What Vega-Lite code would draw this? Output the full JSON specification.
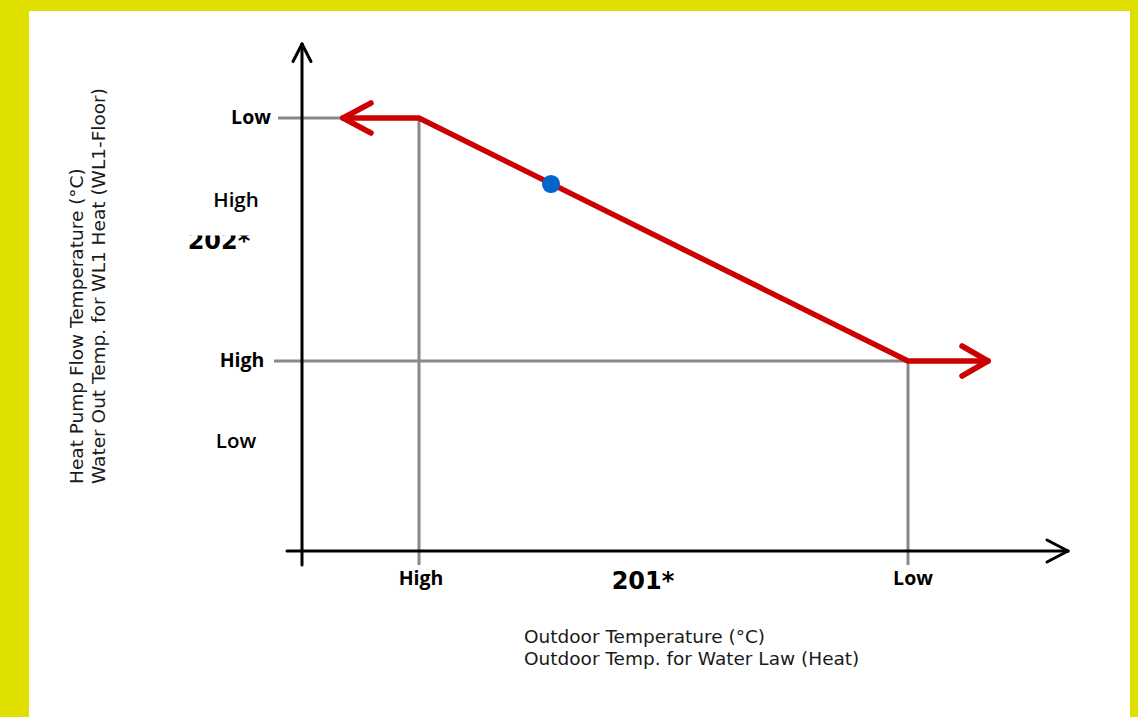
{
  "$schema": "https://vega.github.io/schema/vega-lite/v6.json",
  "width": 1138,
  "height": 717,
  "autosize": {"type": "fit", "contains": "padding"},
  "padding": {"left": 29, "top": 11, "right": 8, "bottom": 0},
  "background": "#dfe000",
  "config": {"view": {"fill": "white", "stroke": null}},
  "datasets": {
    "axes": [
      {"x": 0, "y": -1.4, "x2": 0, "y2": 50.7},
      {"x": -0.9, "y": 48.95, "x2": 0, "y2": 50.7},
      {"x": 0.9, "y": 48.95, "x2": 0, "y2": 50.7},
      {"x": -1.5, "y": 0, "x2": 76.6, "y2": 0},
      {"x": 74.5, "y": 1.1, "x2": 76.6, "y2": 0},
      {"x": 74.5, "y": -1.1, "x2": 76.6, "y2": 0}
    ],
    "guides": [
      {"x": -2.4, "y": 43.3, "x2": 11.7, "y2": 43.3},
      {"x": 11.7, "y": 43.3, "x2": 11.7, "y2": -1.4},
      {"x": -2.8, "y": 19.0, "x2": 60.6, "y2": 19.0},
      {"x": 60.6, "y": 19.0, "x2": 60.6, "y2": -1.4}
    ],
    "curve": [
      {"order": 1, "x": 4.1, "y": 43.3},
      {"order": 2, "x": 11.7, "y": 43.3},
      {"order": 3, "x": 60.6, "y": 19.0},
      {"order": 4, "x": 68.6, "y": 19.0}
    ],
    "arrows": [
      {"x": 6.9, "y": 44.8, "x2": 4.1, "y2": 43.3},
      {"x": 6.9, "y": 41.8, "x2": 4.1, "y2": 43.3},
      {"x": 66.0, "y": 20.5, "x2": 68.6, "y2": 19.0},
      {"x": 66.0, "y": 17.5, "x2": 68.6, "y2": 19.0}
    ],
    "point": [{"x": 24.9, "y": 36.7}],
    "boldLabels": [
      {"text": "Low", "x": -5.1, "y": 43.3},
      {"text": "High", "x": -6.0, "y": 19.0},
      {"text": "High", "x": 11.9, "y": -2.8},
      {"text": "Low", "x": 61.1, "y": -2.8}
    ],
    "softLabels": [
      {"text": "High", "x": -6.6, "y": 35.0},
      {"text": "Low", "x": -6.6, "y": 10.9}
    ],
    "codes": [
      {"text": "202*", "x": -8.3, "y": 30.9},
      {"text": "201*", "x": 34.1, "y": -3.1}
    ],
    "mask": [{"x": -11.7, "x2": -4.7, "y": 33.7, "y2": 31.55}],
    "xtitle": [
      {"text": "Outdoor Temperature (°C)", "x": 22.2, "y": -8.6},
      {"text": "Outdoor Temp. for Water Law (Heat)", "x": 22.2, "y": -10.8}
    ],
    "ytitle": [
      {"text": "Heat Pump Flow Temperature (°C)", "x": -22.5, "y": 6.7},
      {"text": "Water Out Temp. for WL1 Heat (WL1-Floor)", "x": -20.3, "y": 6.7}
    ]
  },
  "encoding": {
    "x": {"field": "x", "type": "quantitative", "scale": {"domain": [-27.3, 82.8], "nice": false, "zero": false}, "axis": null},
    "y": {"field": "y", "type": "quantitative", "scale": {"domain": [-16.6, 54.0], "nice": false, "zero": false}, "axis": null}
  },
  "layer": [
    {
      "data": {"name": "guides"},
      "mark": {"type": "rule", "color": "#888888", "strokeWidth": 3},
      "encoding": {"x2": {"field": "x2"}, "y2": {"field": "y2"}}
    },
    {
      "data": {"name": "axes"},
      "mark": {"type": "rule", "color": "#000000", "strokeWidth": 3, "strokeCap": "round"},
      "encoding": {"x2": {"field": "x2"}, "y2": {"field": "y2"}}
    },
    {
      "data": {"name": "curve"},
      "mark": {"type": "line", "color": "#cc0000", "strokeWidth": 5.5, "strokeCap": "round"},
      "encoding": {"order": {"field": "order", "type": "quantitative"}}
    },
    {
      "data": {"name": "arrows"},
      "mark": {"type": "rule", "color": "#cc0000", "strokeWidth": 5.5, "strokeCap": "round"},
      "encoding": {"x2": {"field": "x2"}, "y2": {"field": "y2"}}
    },
    {
      "data": {"name": "point"},
      "mark": {"type": "circle", "color": "#0066cc", "opacity": 1, "size": 330}
    },
    {
      "data": {"name": "codes"},
      "mark": {"type": "text", "font": "DejaVu Sans", "fontWeight": "bold", "fontSize": 24, "align": "center", "baseline": "middle", "color": "#000000"},
      "encoding": {"text": {"field": "text"}}
    },
    {
      "data": {"name": "mask"},
      "mark": {"type": "rect", "color": "white", "opacity": 1},
      "encoding": {"x2": {"field": "x2"}, "y2": {"field": "y2"}}
    },
    {
      "data": {"name": "boldLabels"},
      "mark": {"type": "text", "font": "Open Sans", "fontWeight": "bold", "fontSize": 19.5, "align": "center", "baseline": "middle", "color": "#000000"},
      "encoding": {"text": {"field": "text"}}
    },
    {
      "data": {"name": "softLabels"},
      "mark": {"type": "text", "font": "Open Sans", "fontWeight": 600, "fontSize": 20.5, "align": "center", "baseline": "middle", "color": "#000000"},
      "encoding": {"text": {"field": "text"}}
    },
    {
      "data": {"name": "xtitle"},
      "mark": {"type": "text", "font": "DejaVu Sans", "fontSize": 18.5, "align": "left", "baseline": "middle", "color": "#1a1a1a"},
      "encoding": {"text": {"field": "text"}}
    },
    {
      "data": {"name": "ytitle"},
      "mark": {"type": "text", "font": "DejaVu Sans", "fontSize": 18.5, "align": "left", "baseline": "middle", "angle": 270, "color": "#1a1a1a"},
      "encoding": {"text": {"field": "text"}}
    }
  ]
}
